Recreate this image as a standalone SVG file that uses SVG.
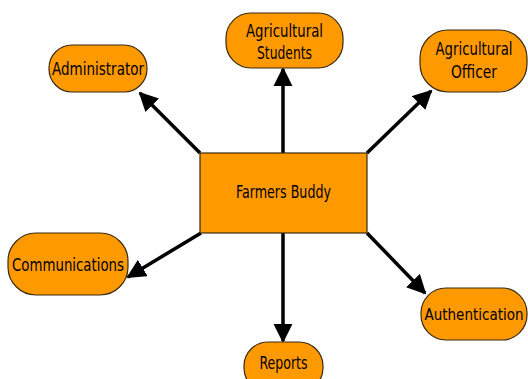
<svg xmlns="http://www.w3.org/2000/svg" width="528" height="379" viewBox="0 0 528 379">
<defs>
<style>
.n{fill:#ff9900;stroke:#3a2a10;stroke-width:1.2}
.t{font-family:"Liberation Sans Narrow","DejaVu Sans Condensed","Liberation Sans",sans-serif;font-size:17px;fill:#000;text-anchor:middle}
.c{stroke:#000;stroke-width:3.5;fill:none;marker-end:url(#ah)}
</style>
<marker id="ah" viewBox="0 0 10 10" refX="9" refY="5" markerWidth="5.5" markerHeight="5.5" markerUnits="strokeWidth" orient="auto">
<path d="M0,0 L10,5 L0,10 z" fill="#000"/>
</marker>
</defs>
<rect width="528" height="379" fill="#fff"/>
<g id="connectors">
<line class="c" x1="200" y1="153" x2="140" y2="93"/>
<line class="c" x1="283" y1="153" x2="283" y2="69"/>
<line class="c" x1="367" y1="153" x2="431" y2="91"/>
<line class="c" x1="201" y1="233" x2="128" y2="277"/>
<line class="c" x1="367" y1="233" x2="425" y2="293"/>
<line class="c" x1="283" y1="233" x2="283" y2="341"/>
</g>
<g id="center">
<rect class="n" x="200" y="153" width="167" height="80"/>
<text class="t" x="283.5" y="198" textLength="95" lengthAdjust="spacingAndGlyphs">Farmers Buddy</text>
</g>
<g id="administrator">
<rect class="n" x="49" y="45" width="98" height="47" rx="23" ry="23"/>
<text class="t" x="98" y="75" textLength="92" lengthAdjust="spacingAndGlyphs">Administrator</text>
</g>
<g id="students">
<rect class="n" x="226" y="13" width="117" height="55" rx="25" ry="25"/>
<text class="t" x="284.5" y="37" textLength="77" lengthAdjust="spacingAndGlyphs">Agricultural</text>
<text class="t" x="284.5" y="59" textLength="55" lengthAdjust="spacingAndGlyphs">Students</text>
</g>
<g id="officer">
<rect class="n" x="420" y="30" width="107" height="62" rx="28" ry="28"/>
<text class="t" x="474" y="55" textLength="77" lengthAdjust="spacingAndGlyphs">Agricultural</text>
<text class="t" x="474" y="78" textLength="46" lengthAdjust="spacingAndGlyphs">Officer</text>
</g>
<g id="communications">
<rect class="n" x="8" y="233" width="120" height="62" rx="28" ry="28"/>
<text class="t" x="68" y="271" textLength="112" lengthAdjust="spacingAndGlyphs">Communications</text>
</g>
<g id="authentication">
<rect class="n" x="421" y="288" width="106" height="52" rx="25" ry="25"/>
<text class="t" x="474" y="320" style="font-size:15px">Authentication</text>
</g>
<g id="reports">
<rect class="n" x="244" y="342" width="79" height="50" rx="24" ry="24"/>
<text class="t" x="283.5" y="369" textLength="48" lengthAdjust="spacingAndGlyphs">Reports</text>
</g>
</svg>
